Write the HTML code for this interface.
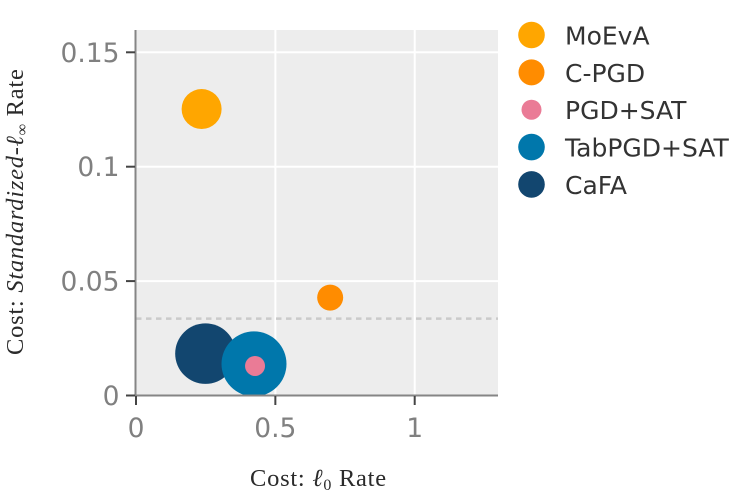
<!DOCTYPE html>
<html>
<head>
<meta charset="utf-8">
<title>Cost scatter</title>
<style>
html,body{margin:0;padding:0;background:#fff;width:747px;height:497px;overflow:hidden}
svg{display:block}
</style>
</head>
<body>
<svg id="chart" xmlns="http://www.w3.org/2000/svg" width="747" height="497" viewBox="0 0 747 497">
  <rect x="136" y="30" width="362" height="365.5" fill="#ededed"></rect>
  <g id="grid"></g>
  <line id="refline" stroke="#cacaca" stroke-width="2.5" stroke-dasharray="5.5 4.5"></line>
  <g id="marks"></g>
  <line x1="135.5" y1="30" x2="135.5" y2="396.5" stroke="#858585" stroke-width="2"></line>
  <line x1="135" y1="395.5" x2="498" y2="395.5" stroke="#858585" stroke-width="2"></line>
  <g id="ticks"></g>
  <text x="250" y="486" font-family="'Liberation Serif',serif" font-size="24.5" letter-spacing="0.75" fill="#2b2b2b">Cost: <tspan font-style="italic">ℓ</tspan><tspan font-size="16" dy="4">0</tspan><tspan dy="-4"> Rate</tspan></text>
  <text transform="translate(23,355) rotate(-90)" font-family="'Liberation Serif',serif" font-size="24.5" letter-spacing="0.75" fill="#2b2b2b">Cost: <tspan font-style="italic">Standardized-ℓ</tspan><tspan font-size="16" dy="4">∞</tspan><tspan dy="-4"> Rate</tspan></text>
  <g id="legend"></g>
</svg>
<script>
var methods = ["MoEvA", "C-PGD", "PGD+SAT", "TabPGD+SAT", "CaFA"];
var colors = ["#ffa600", "#ff8c00", "#ea7b96", "#0077ab", "#12466f"];
var l0Rate = [0.2354, 0.6967, 0.4271, 0.4234, 0.2493];
var linfRate = [0.1252, 0.0428, 0.0129, 0.0138, 0.0183];
var bubbleSize = [20, 13, 10, 32.5, 30.3];
var referenceValue = [0.0336];
var xTicks = [0, 0.5, 1];
var yTicks = [0, 0.05, 0.1, 0.15];
var xTickLabels = ["0", "0.5", "1"];
var yTickLabels = ["0", "0.05", "0.1", "0.15"];

var NS = "http://www.w3.org/2000/svg";
function xScale(v) { return 136 + v * 278.7; }
function yScale(v) { return 395.5 - v * 2288; }
function make(parent, tag, attrs) {
  var el = document.createElementNS(NS, tag);
  for (var k in attrs) { el.setAttribute(k, attrs[k]); }
  parent.appendChild(el);
  return el;
}
var grid = document.getElementById("grid");
var ticks = document.getElementById("ticks");
var marks = document.getElementById("marks");
var legend = document.getElementById("legend");
var tickFont = "'DejaVu Sans',sans-serif";

xTicks.forEach(function (t, i) {
  var x = xScale(t);
  if (t > 0) {
    var g = make(grid, "line", { x1: x, x2: x, y1: 30, y2: 395.5, stroke: "#fff", "stroke-width": 2 });
    
    
  }
  var tk = make(ticks, "line", { x1: x, x2: x, y1: 396, y2: 405, stroke: "#444", "stroke-width": 2 });
  
  
  var lb = make(ticks, "text", { x: x, y: 437, "text-anchor": "middle", "font-family": tickFont, "font-size": 26.5, fill: "#808080" });
  
  
  lb.textContent = xTickLabels[i];
});
yTicks.forEach(function (t, i) {
  var y = yScale(t);
  if (t > 0) {
    var g = make(grid, "line", { x1: 136, x2: 498, y1: y, y2: y, stroke: "#fff", "stroke-width": 2 });
    
    
  }
  var tk = make(ticks, "line", { x1: 126, x2: 135, y1: y, y2: y, stroke: "#444", "stroke-width": 2 });
  
  
  var lb = make(ticks, "text", { x: 119.5, y: y + 9.5, "text-anchor": "end", "font-family": tickFont, "font-size": 26.5, fill: "#808080" });
  
  
  lb.textContent = yTickLabels[i];
});

var ref = document.getElementById("refline");
ref.setAttribute("x1", 136);
ref.setAttribute("x2", 498);
ref.setAttribute("y1", yScale(referenceValue[0]));
ref.setAttribute("y2", yScale(referenceValue[0]));

for (var i = methods.length - 1; i >= 0; i--) {
  var c = make(marks, "circle", { cx: xScale(l0Rate[i]), cy: yScale(linfRate[i]), r: bubbleSize[i], fill: colors[i] });
  
  
}

var legendRadius = [13.3, 13, 10, 13.3, 13.3];
methods.forEach(function (m, i) {
  var y = 35 + i * 37.35;
  var s = make(legend, "circle", { cx: 531.5, cy: y, r: legendRadius[i], fill: colors[i] });
  
  
  var t = make(legend, "text", { x: 565, y: y + 9.5, "font-family": tickFont, "font-size": 25, fill: "#333" });
  
  
  t.textContent = m;
});
</script>
</body>
</html>
